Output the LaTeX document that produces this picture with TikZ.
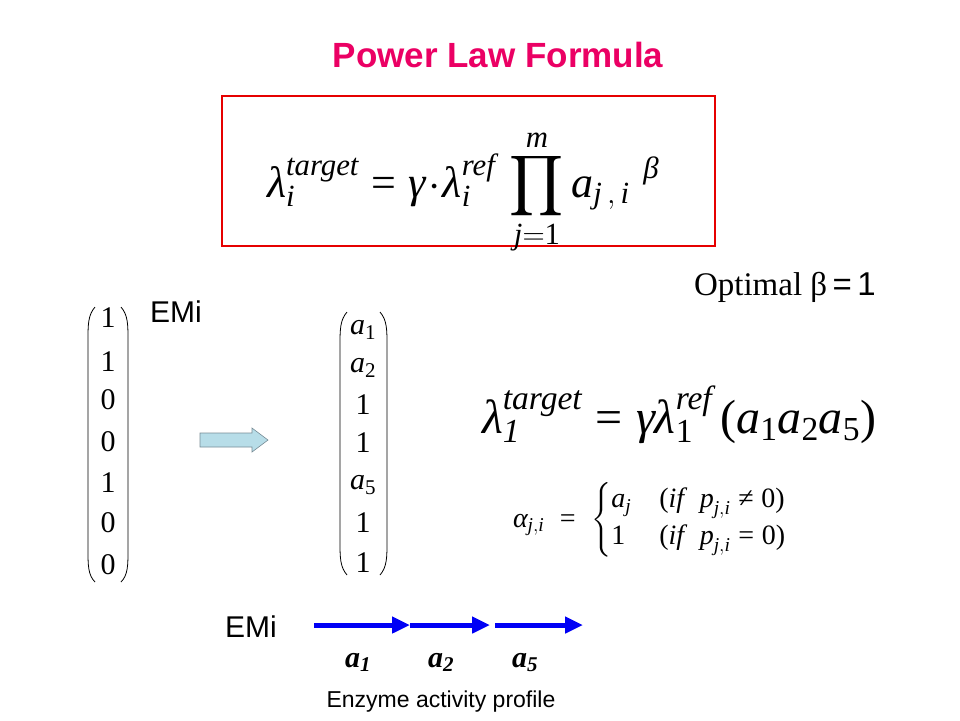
\RequirePackage{fix-cm}
\documentclass[tikz,border=0pt]{standalone}
\usepackage{amsmath}
\usepackage{fontspec}
\setmainfont{Liberation Serif}
\setsansfont{Liberation Sans}
\usetikzlibrary{arrows.meta}
\definecolor{titlepink}{RGB}{235,0,100}
\definecolor{boxred}{RGB}{230,0,0}
\definecolor{arrowfill}{RGB}{183,221,232}
\definecolor{arrowedge}{RGB}{120,140,150}
\definecolor{arrowblue}{RGB}{0,0,245}
\newcommand{\fs}[1]{\fontsize{#1}{#1}\selectfont}
\newcommand{\ti}[1]{\text{\itshape #1}}
\newcommand{\tr}[1]{\text{\upshape #1}}
\newcommand{\tb}[1]{\text{\bfseries\itshape #1}}
\newcommand{\teq}{\mathrel{\tr{=}}}
\newcommand{\tneq}{\mathrel{\tr{≠}}}
\newcommand{\bigprod}{\mathop{\vcenter{\hbox{\scalebox{1.7}{$\displaystyle\prod$}}}}}
\begin{document}
\begin{tikzpicture}[x=1pt,y=-1pt,
  every node/.style={inner sep=0pt, outer sep=0pt},
  titlestyle/.style={font=\sffamily\bfseries\fs{35}, text=titlepink},
  labelsans/.style={font=\sffamily\fs{30}, anchor=base west},
  entry/.style={font=\fs{30}},
  paren/.style={line width=0.8pt, black},
  bluearrow/.style={arrowblue, line width=5pt, -{Triangle[length=18pt,width=16pt]}},
  blabel/.style={font=\fs{30}, anchor=base}
]
\useasboundingbox (0,0) rectangle (960,720);
\fill[white] (0,0) rectangle (960,720);

% title
\node[titlestyle] (title) at (498,55) {Power Law Formula};

% red box with formula
\node[draw=boxred, line width=2.5pt, minimum width=493pt, minimum height=150pt] (box) at (468.5,171) {};
\node[anchor=base west] (f1) at (267,197) {\fs{44}$\displaystyle \ti{λ}_{\ti{i}}^{\ti{target}} \teq \ti{γ}\!\cdot\!\ti{λ}_{\ti{i}}^{\ti{ref}}\,\bigprod\limits_{\ti{j}=\tr{1}}^{\ti{m}} \ti{a}_{\ti{j}\,,\,\ti{i}}{}^{\;\,\ti{β}}$};

% optimal beta
\node[anchor=base west, font=\fs{33}] (opt) at (694,295) {Optimal β\,{\sffamily =\,1}};

% EMi top
\node[labelsans] (emi1) at (150,322) {EMi};

% left vector
\foreach \v/\y [count=\k] in {1/318,1/362,0/400,0/442,1/483,0/523,0/565}{
  \node[entry] (l\k) at (108,\y) {\v};
}
\draw[paren] (95,307) .. controls (88,315) and (88,325) .. (88,340) -- (88,550) .. controls (88,565) and (88,575) .. (95,582);
\draw[paren] (121,307) .. controls (128,315) and (128,325) .. (128,340) -- (128,550) .. controls (128,565) and (128,575) .. (121,582);

% block arrow
\draw[arrowedge, fill=arrowfill, line width=0.6pt] (200,433) -- (252,433) -- (252,428) -- (268,440) -- (252,452) -- (252,447) -- (200,447) -- cycle;

% right vector
\foreach \v/\y [count=\k] in {{$\ti{a}_{\tr{1}}$}/330,{$\ti{a}_{\tr{2}}$}/368,1/405,1/443,{$\ti{a}_{\tr{5}}$}/485,1/523,1/563}{
  \node[entry] (r\k) at (363,\y) {\v};
}
\draw[paren] (347,312) .. controls (340,320) and (340,330) .. (340,345) -- (340,542) .. controls (340,557) and (340,567) .. (347,575);
\draw[paren] (380,312) .. controls (387,320) and (387,330) .. (387,345) -- (387,542) .. controls (387,557) and (387,567) .. (380,575);

% formula 2
\node[anchor=base west] (f2) at (482,433) {\fs{48}$\ti{λ}_{\ti{1}}^{\ti{target}} \teq \ti{γλ}_{\tr{1}}^{\ti{ref}}\,\tr{(}\ti{a}_{\tr{1}}\ti{a}_{\tr{2}}\ti{a}_{\tr{5}}\tr{)}$};

% formula 3
\node[anchor=west] (f3) at (513,520) {\fs{28}$\ti{α}_{\ti{j},\ti{i}} \;\teq\; \begin{cases} \ti{a}_{\ti{j}} & \tr{(}\ti{if}\;\; \ti{p}_{\ti{j},\ti{i}}\tneq \tr{0)}\\[3pt] \tr{1} & \tr{(}\ti{if}\;\; \ti{p}_{\ti{j},\ti{i}}\teq \tr{0)}\end{cases}$};

% bottom profile
\node[labelsans] (emi2) at (225,637) {EMi};
\coordinate (p0) at (314,625);
\coordinate (p1) at (410,625);
\coordinate (p2) at (490,625);
\coordinate (p3) at (495,625);
\coordinate (p4) at (583,625);
\draw[bluearrow] (p0) -- (p1);
\draw[bluearrow] (p1) -- (p2);
\draw[bluearrow] (p3) -- (p4);
\node[blabel] (a1) at (358,667) {$\tb{a}_{\tb{1}}$};
\node[blabel] (a2) at (441,667) {$\tb{a}_{\tb{2}}$};
\node[blabel] (a5) at (525,667) {$\tb{a}_{\tb{5}}$};
\node[font=\sffamily\fs{23}, anchor=base] (enz) at (441,707) {Enzyme activity profile};
\end{tikzpicture}
\end{document}
